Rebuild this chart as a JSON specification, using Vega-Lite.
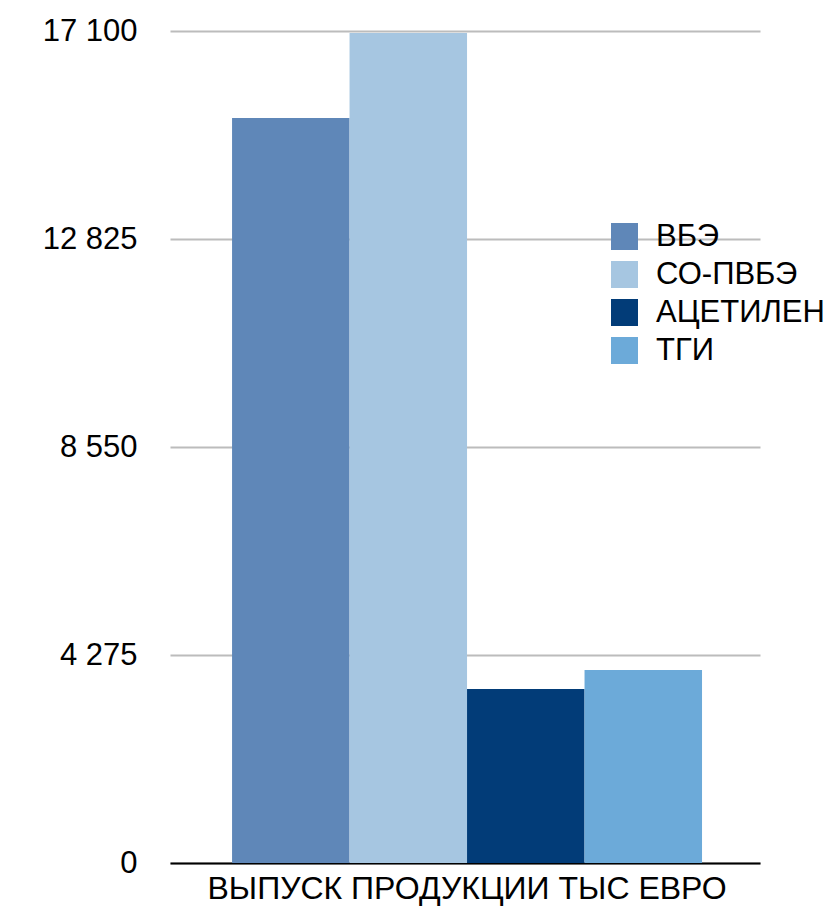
{
  "$schema": "https://vega.github.io/schema/vega-lite/v6.json",
  "autosize": "none",
  "width": 590,
  "height": 832,
  "padding": {"left": 170, "top": 31, "right": 77, "bottom": 45},
  "background": "white",
  "config": {
    "font": "Liberation Sans",
    "view": {"stroke": null}
  },
  "data": {
    "values": [
      {"group": "ВЫПУСК ПРОДУКЦИИ ТЫС ЕВРО", "series": "ВБЭ", "value": 15310},
      {"group": "ВЫПУСК ПРОДУКЦИИ ТЫС ЕВРО", "series": "СО-ПВБЭ", "value": 17060},
      {"group": "ВЫПУСК ПРОДУКЦИИ ТЫС ЕВРО", "series": "АЦЕТИЛЕН", "value": 3576},
      {"group": "ВЫПУСК ПРОДУКЦИИ ТЫС ЕВРО", "series": "ТГИ", "value": 3967}
    ]
  },
  "mark": {"type": "bar"},
  "encoding": {
    "x": {
      "field": "group",
      "type": "nominal",
      "title": null,
      "scale": {"paddingInner": 0, "paddingOuter": 0.1277, "align": 0.517},
      "axis": {
        "labelAngle": 0,
        "labelFontSize": 32,
        "labelColor": "black",
        "labelPadding": 10,
        "labelLimit": 0,
        "labelDx": -6,
        "ticks": false,
        "domainColor": "black",
        "domainWidth": 2,
        "grid": false
      }
    },
    "xOffset": {
      "field": "series",
      "type": "nominal",
      "sort": ["ВБЭ", "СО-ПВБЭ", "АЦЕТИЛЕН", "ТГИ"],
      "scale": {"paddingInner": 0, "paddingOuter": 0}
    },
    "y": {
      "field": "value",
      "type": "quantitative",
      "title": null,
      "scale": {"domain": [0, 17100], "nice": false, "zero": true},
      "axis": {
        "values": [0, 4275, 8550, 12825, 17100],
        "labelExpr": "replace(format(datum.value, ',d'), ',', ' ')",
        "labelFontSize": 31,
        "labelColor": "black",
        "labelPadding": 33,
        "ticks": false,
        "domain": false,
        "grid": true,
        "gridColor": "#bcbcbc",
        "gridWidth": 2
      }
    },
    "color": {
      "field": "series",
      "type": "nominal",
      "sort": ["ВБЭ", "СО-ПВБЭ", "АЦЕТИЛЕН", "ТГИ"],
      "scale": {
        "domain": ["ВБЭ", "СО-ПВБЭ", "АЦЕТИЛЕН", "ТГИ"],
        "range": ["#5f87b8", "#a6c6e1", "#023c78", "#6caad9"]
      },
      "legend": {
        "title": null,
        "orient": "none",
        "legendX": 439,
        "legendY": 190,
        "padding": 0,
        "symbolType": "square",
        "symbolSize": 729,
        "symbolStrokeWidth": 0,
        "symbolOpacity": 1,
        "labelFontSize": 31,
        "labelColor": "black",
        "labelOffset": 16,
        "labelLimit": 0,
        "rowPadding": 6
      }
    }
  }
}
